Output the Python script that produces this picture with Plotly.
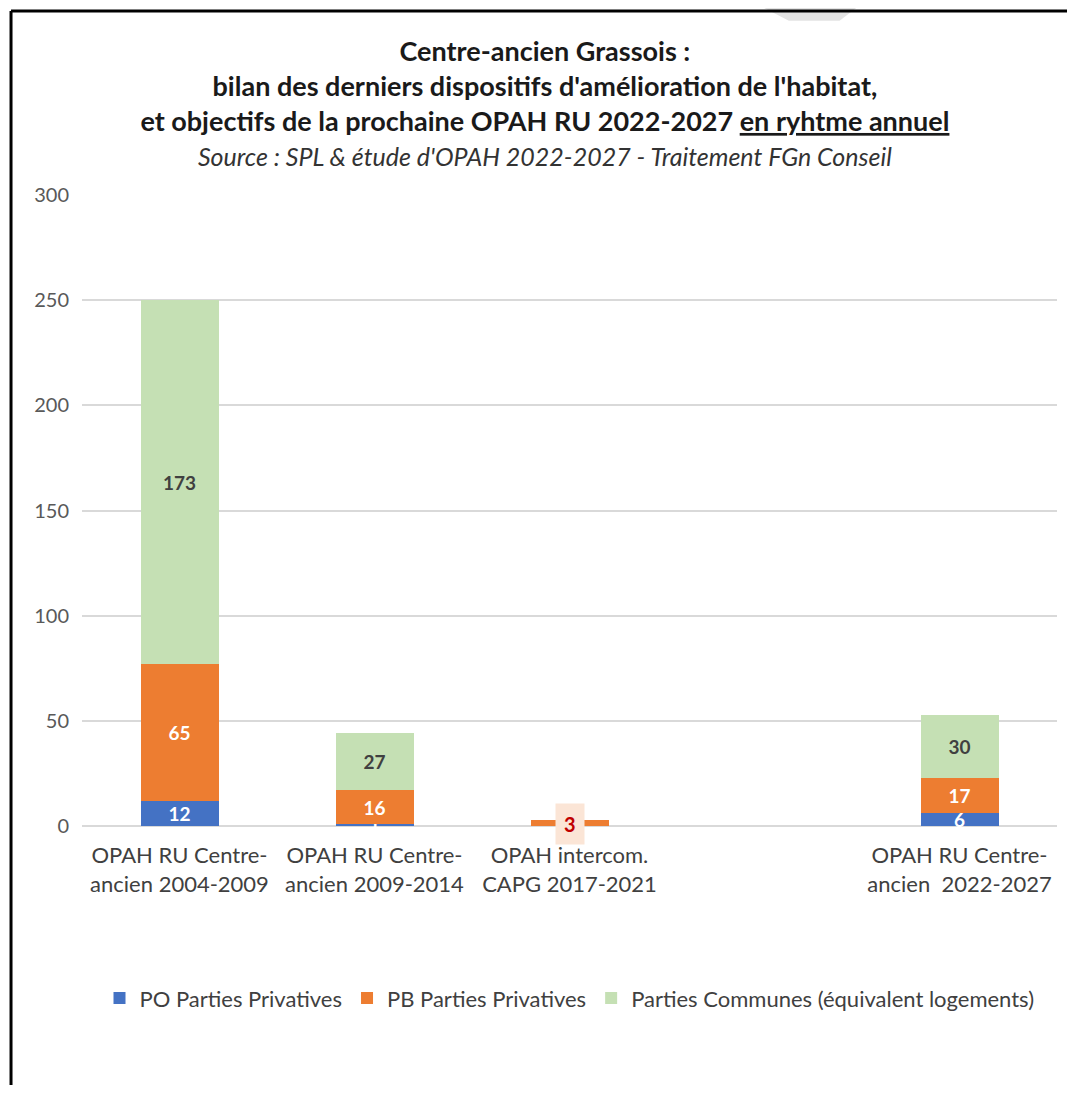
import plotly.graph_objects as go

categories = ["OPAH RU Centre-<br>ancien 2004-2009", "OPAH RU Centre-<br>ancien 2009-2014",
              "OPAH intercom.<br>CAPG 2017-2021", " ", "OPAH RU Centre-<br>ancien  2022-2027"]
po_values = [12, 1, 0, None, 6]
pb_values = [65, 16, 3, None, 17]
pc_values = [173, 27, 0, None, 30]
series_names = ["PO Parties Privatives", "PB Parties Privatives", "Parties Communes (équivalent logements)"]
y_ticks = [0, 50, 100, 150, 200, 250, 300]

FONT = "Lato, Open Sans, sans-serif"

def labels(vals, skip=()):
    return ["" if (v in (None, 0) or i in skip) else str(v) for i, v in enumerate(vals)]

fig = go.Figure()
fig.add_trace(go.Bar(x=categories, y=po_values, name=series_names[0], marker_color="#4472C4",
                     text=labels(po_values), textfont=dict(color="white", family=FONT, size=19)))
fig.add_trace(go.Bar(x=categories, y=pb_values, name=series_names[1], marker_color="#ED7D31",
                     text=labels(pb_values, skip=(2,)), textfont=dict(color="white", family=FONT, size=19)))
fig.add_trace(go.Bar(x=categories, y=pc_values, name=series_names[2], marker_color="#C5E0B4",
                     text=labels(pc_values), textfont=dict(color="#404040", family=FONT, size=19)))
fig.update_traces(textposition="inside", insidetextanchor="middle", marker_line_width=0,
                  texttemplate="<b>%{text}</b>", textangle=0, cliponaxis=False)

# red highlighted label on the small bar
fig.add_annotation(x=categories[2], y=pb_values[2], text="<b>3</b>", showarrow=False,
                   font=dict(color="#C00000", size=20, family=FONT), bgcolor="#FBE5D6",
                   borderpad=8, yshift=-4)

fig.update_layout(
    width=1059, height=1077,
    margin=dict(l=74, r=10, t=187, b=259),
    barmode="stack", bargap=0.6,
    plot_bgcolor="white", paper_bgcolor="white",
    uniformtext=dict(minsize=19, mode="show"),
    font=dict(family=FONT, color="#404040"),
    title=dict(
        text="<b>Centre-ancien Grassois :<br>bilan des derniers dispositifs d'amélioration de l'habitat,"
             "<br>et objectifs de la prochaine OPAH RU 2022-2027 <u>en ryhtme annuel</u></b>"
             "<br><span style='font-size:25px;color:#333333'><i>Source : SPL & étude d'OPAH 2022-2027 - Traitement FGn Conseil</i></span>",
        x=0.507, xanchor="center", y=0.951, yanchor="top",
        font=dict(size=27, color="#1a1a1a", family=FONT)),
    xaxis=dict(categoryorder="array", categoryarray=categories, showgrid=False,
               tickfont=dict(size=22, color="#404040"), ticks="", showline=False,
               ticklabelstandoff=14),
    yaxis=dict(range=[0, 300], tickvals=y_ticks, gridcolor="#D9D9D9", gridwidth=1.5,
               zeroline=True, zerolinecolor="#D9D9D9", zerolinewidth=1.5,
               tickfont=dict(size=20, color="#595959"), ticks="", ticklabelstandoff=12),
    legend=dict(orientation="h", x=0.5, xanchor="center", y=-0.273, yanchor="middle",
                font=dict(size=22, color="#404040"), traceorder="normal"),
    shapes=[
        dict(type="path", xref="paper", yref="paper", layer="below", line_width=0,
             fillcolor="#E3E3E3",
             path="M 0.664 1.325 L 0.818 1.325 L 0.777 1.276 L 0.725 1.276 Z"),
        dict(type="line", xref="paper", yref="paper", x0=-0.0728, x1=1.05, y0=1.2916, y1=1.2916,
             line=dict(color="black", width=3)),
        dict(type="line", xref="paper", yref="paper", x0=-0.0728, x1=-0.0728, y0=1.2916, y1=-0.42,
             line=dict(color="black", width=3)),
    ],
)

fig.write_html("out.html")
